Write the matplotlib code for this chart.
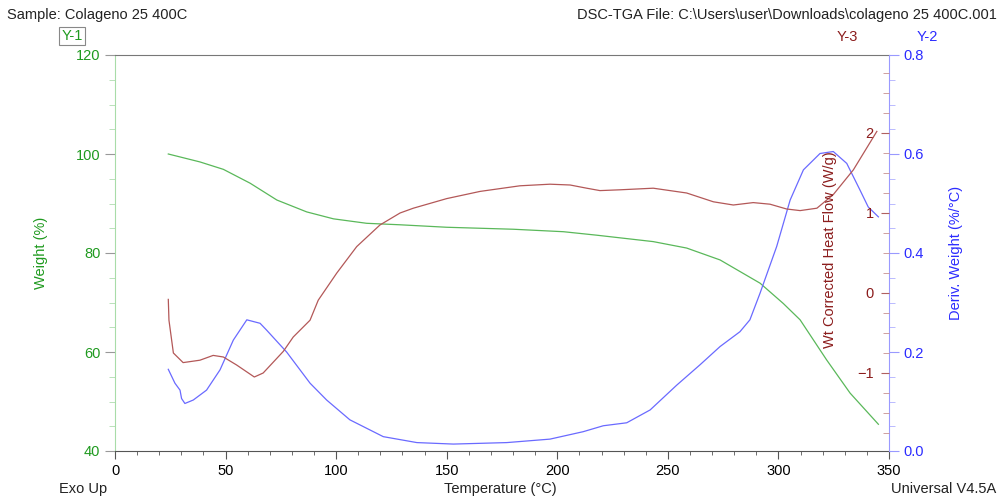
import matplotlib
matplotlib.use("Agg")
import matplotlib.pyplot as plt
from matplotlib.ticker import MultipleLocator, FormatStrFormatter

plt.rcParams["font.family"] = ["Liberation Sans", "DejaVu Sans"]
plt.rcParams["font.size"] = 10.5

# weight (%) vs temperature
t_weight = [24.1, 38.4, 49.0, 61.1, 73.2, 86.7, 98.8, 113.8, 128.9, 150.0, 180.1,
            202.8, 217.8, 243.4, 258.5, 273.6, 291.7, 302.2, 309.8, 321.8, 332.4, 345.2]
weight = [100.0, 98.4, 96.9, 94.1, 90.7, 88.3, 86.9, 86.0, 85.7, 85.2, 84.8,
          84.3, 83.6, 82.3, 81.0, 78.6, 73.9, 69.8, 66.5, 58.4, 51.7, 45.4]

# deriv. weight (%/°C)
t_deriv = [24.1, 27.1, 29.4, 30.1, 31.6, 35.4, 41.4, 47.5, 53.5, 59.6, 65.6, 68.6,
           77.6, 88.2, 95.7, 106.2, 121.3, 136.5, 153.0, 177.2, 196.7, 211.7, 220.8,
           231.4, 242.0, 254.0, 264.5, 273.6, 282.6, 287.1, 291.7, 299.2, 305.3,
           311.3, 318.8, 324.8, 330.9, 336.9, 340.6, 345.2]
deriv = [0.165, 0.137, 0.123, 0.106, 0.096, 0.103, 0.123, 0.164, 0.224, 0.265, 0.258,
         0.244, 0.200, 0.137, 0.103, 0.063, 0.029, 0.017, 0.014, 0.017, 0.024, 0.039,
         0.051, 0.057, 0.083, 0.133, 0.174, 0.211, 0.241, 0.265, 0.319, 0.413, 0.507,
         0.568, 0.601, 0.605, 0.581, 0.527, 0.493, 0.473]

# wt corrected heat flow (W/g)
t_heat = [24.1, 24.4, 26.4, 30.8, 38.4, 44.4, 49.0, 55.0, 63.0, 67.0, 76.1, 80.6,
          88.2, 91.9, 100.3, 109.3, 119.8, 128.9, 134.9, 150.0, 165.1, 183.1, 196.7,
          205.8, 213.3, 219.3, 228.4, 243.4, 258.5, 270.6, 279.6, 288.6, 296.2,
          303.7, 309.8, 317.4, 324.8, 333.9, 344.5]
heat = [-0.08, -0.34, -0.75, -0.87, -0.84, -0.78, -0.80, -0.90, -1.05, -1.00, -0.73,
        -0.55, -0.34, -0.09, 0.25, 0.58, 0.85, 1.00, 1.06, 1.18, 1.27, 1.34, 1.36,
        1.35, 1.31, 1.28, 1.29, 1.31, 1.25, 1.14, 1.10, 1.13, 1.11, 1.05, 1.03,
        1.06, 1.23, 1.54, 2.02]

green, green_line = "#1f9a1f", "#5ab85a"
blue, blue_line = "#2b2bff", "#6a6aff"
red, red_line = "#8b1c1c", "#b35858"

fig, ax = plt.subplots(figsize=(10, 4.97), dpi=100)
fig.subplots_adjust(left=0.115, right=0.889, bottom=1 - 451 / 497, top=1 - 55 / 497)

ax.plot(t_weight, weight, color=green_line, lw=0.9)
ax.set_xlim(0, 350)
ax.set_ylim(40, 120)
ax.xaxis.set_major_locator(MultipleLocator(50))
ax.xaxis.set_minor_locator(MultipleLocator(10))
ax.yaxis.set_major_locator(MultipleLocator(20))
ax.yaxis.set_minor_locator(MultipleLocator(5))
ax.tick_params(axis="x", which="major", length=6, color="#555555", labelsize=10.5)
ax.tick_params(axis="x", which="minor", length=3, color="#555555")
ax.tick_params(axis="y", which="major", length=7, color="#999999", labelcolor=green)
ax.tick_params(axis="y", which="minor", length=4, color="#b0dcb0")
ax.spines["left"].set_color("#a8dca8")
ax.spines["bottom"].set_color("#555555")
ax.spines["top"].set_color("#777777")
ax.spines["right"].set_visible(False)
ax.set_ylabel("Weight (%)", color=green, labelpad=20)

ax2 = ax.twinx()
ax2.plot(t_deriv, deriv, color=blue_line, lw=0.9)
ax2.set_ylim(0, 0.8)
ax2.yaxis.set_major_locator(MultipleLocator(0.2))
ax2.yaxis.set_minor_locator(MultipleLocator(0.05))
ax2.yaxis.set_major_formatter(FormatStrFormatter("%.1f"))
ax2.tick_params(axis="y", which="major", length=7, color="#9999ff", labelcolor=blue)
ax2.tick_params(axis="y", which="minor", length=4, color="#b0b0ff")
for s in ["left", "top", "bottom"]:
    ax2.spines[s].set_visible(False)
ax2.spines["right"].set_color("#9a9aff")
ax2.set_ylabel("Deriv. Weight (%/°C)", color=blue, labelpad=18)

ax3 = ax.twinx()
ax3.plot(t_heat, heat, color=red_line, lw=0.9)
ax3.set_ylim(-1.975, 2.975)
ax3.yaxis.set_major_locator(MultipleLocator(1))
ax3.yaxis.set_minor_locator(MultipleLocator(0.25))
ax3.tick_params(axis="y", which="major", direction="in", length=6, color="#b06060",
                labelcolor=red, pad=-11)
ax3.tick_params(axis="y", which="minor", direction="in", length=4, color="#c89090")
for lab in ax3.get_yticklabels():
    lab.set_horizontalalignment("right")
for s in ax3.spines.values():
    s.set_visible(False)

fig.text(830 / 1000, 1 - 250 / 497, "Wt Corrected Heat Flow (W/g)", color=red,
         rotation=90, ha="center", va="center")

fig.text(7 / 1000, 1 - 15 / 497, "Sample: Colageno 25 400C", ha="left", va="center",
         color="#222222")
fig.text(997 / 1000, 1 - 15 / 497, "DSC-TGA File: C:\\Users\\user\\Downloads\\colageno 25 400C.001",
         ha="right", va="center", color="#222222")
fig.text(72 / 1000, 1 - 36 / 497, "Y-1", ha="center", va="center", color=green,
         bbox=dict(boxstyle="square,pad=0.15", fc="white", ec="#888888", lw=0.8))
fig.text(847 / 1000, 1 - 37 / 497, "Y-3", ha="center", va="center", color=red)
fig.text(927 / 1000, 1 - 37 / 497, "Y-2", ha="center", va="center", color=blue)
fig.text(59 / 1000, 1 - 489 / 497, "Exo Up", ha="left", va="center", color="#222222")
fig.text(500 / 1000, 1 - 489 / 497, "Temperature (°C)", ha="center", va="center",
         color="#222222")
fig.text(996 / 1000, 1 - 489 / 497, "Universal V4.5A", ha="right", va="center",
         color="#222222")

fig.savefig("out.png", dpi=100)
